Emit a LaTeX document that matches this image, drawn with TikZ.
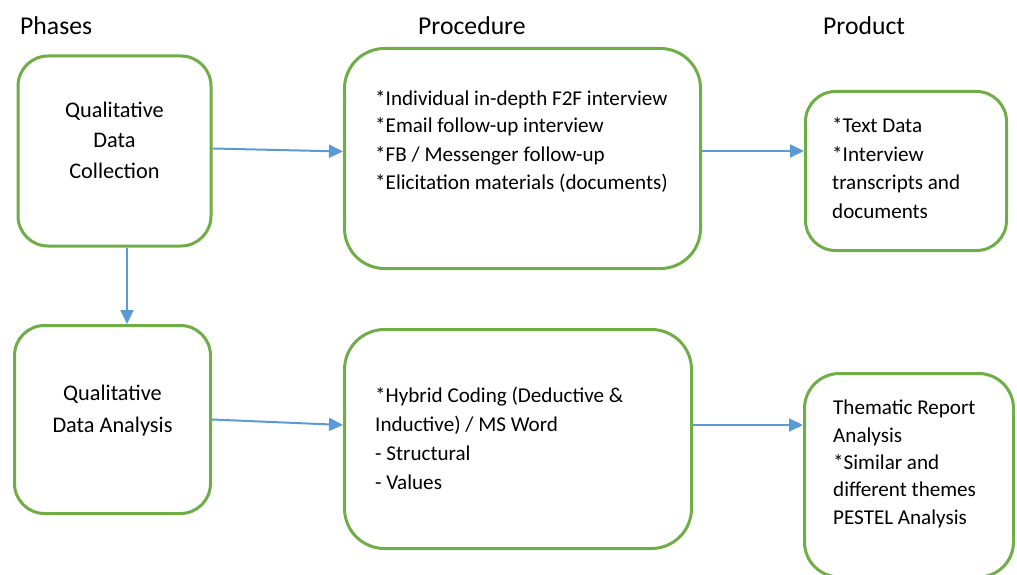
\documentclass[tikz,border=0pt]{standalone}
\usepackage{fontspec}
\setmainfont{Carlito}
\usetikzlibrary{arrows.meta}
\definecolor{boxgreen}{HTML}{70AD47}
\definecolor{flowblue}{HTML}{5B9BD5}
\begin{document}
\begin{tikzpicture}[x=1pt,y=-1pt,
  box/.style={draw=boxgreen, line width=3pt, fill=white, inner sep=0pt},
  flow/.style={draw=flowblue, line width=2pt, -{Triangle[length=14pt,width=13pt]}},
  head/.style={font=\fontsize{25.7}{30}\selectfont, anchor=base west, inner sep=0pt},
  body/.style={font=\fontsize{21.1}{28}\selectfont, align=left, anchor=base west, inner sep=0pt},
  phase/.style={font=\fontsize{22.3}{30.5}\selectfont, align=center, anchor=base, inner sep=0pt},
]
\useasboundingbox (0,0) rectangle (1017,575);

% column headings
\node[head] (hPhases) at (20,35) {Phases};
\node[head] (hProc) at (418,35) {Procedure};
\node[head] (hProd) at (823,35) {Product};

% boxes
\node[box, rounded corners=30pt, minimum width=193pt, minimum height=190pt] (A) at (114.5,151) {};
\node[box, rounded corners=40pt, minimum width=356pt, minimum height=220pt] (B) at (522.5,158.5) {};
\node[box, rounded corners=30pt, minimum width=201pt, minimum height=159pt] (C) at (906,171) {};
\node[box, rounded corners=30pt, minimum width=196pt, minimum height=188pt] (D) at (112.5,419.5) {};
\node[box, rounded corners=40pt, minimum width=347pt, minimum height=219pt] (E) at (518,439) {};
\node[box, rounded corners=35pt, minimum width=209pt, minimum height=203.5pt] (F) at (909,475.25) {};

% box texts (anchored on the baseline of their last line)
\node[phase] (tA) at (114.5,178) {Qualitative\\Data\\Collection};
\node[body] (tB) at (375,189) {*Individual in-depth F2F interview\\*Email follow-up interview\\*FB / Messenger follow-up\\*Elicitation materials (documents)};
\node[body, font=\fontsize{21.1}{28.4}\selectfont] (tC) at (832,218) {*Text Data\\*Interview\\transcripts and\\documents};
\node[phase, font=\fontsize{22.3}{32}\selectfont] (tD) at (112.5,432) {Qualitative\\Data Analysis};
\node[body, font=\fontsize{21.1}{28.7}\selectfont] (tE) at (375,489) {*Hybrid Coding (Deductive \&\\Inductive) / MS Word\\- Structural\\- Values};
\node[body, font=\fontsize{21.1}{27.3}\selectfont] (tF) at (833,524) {Thematic Report\\Analysis\\*Similar and\\different themes\\PESTEL Analysis};

% connectors
\draw[flow] ([yshift=2.5pt]A.east) -- ([yshift=7pt]B.west);
\draw[flow] ([yshift=7.5pt]B.east) -- ([yshift=20pt]C.west);
\draw[flow] ([xshift=12.5pt]A.south) -- ([xshift=14.5pt]D.north);
\draw[flow] (D.east) -- ([yshift=14pt]E.west);
\draw[flow] ([yshift=14pt]E.east) -- ([yshift=50.25pt]F.west);
\end{tikzpicture}
\end{document}
